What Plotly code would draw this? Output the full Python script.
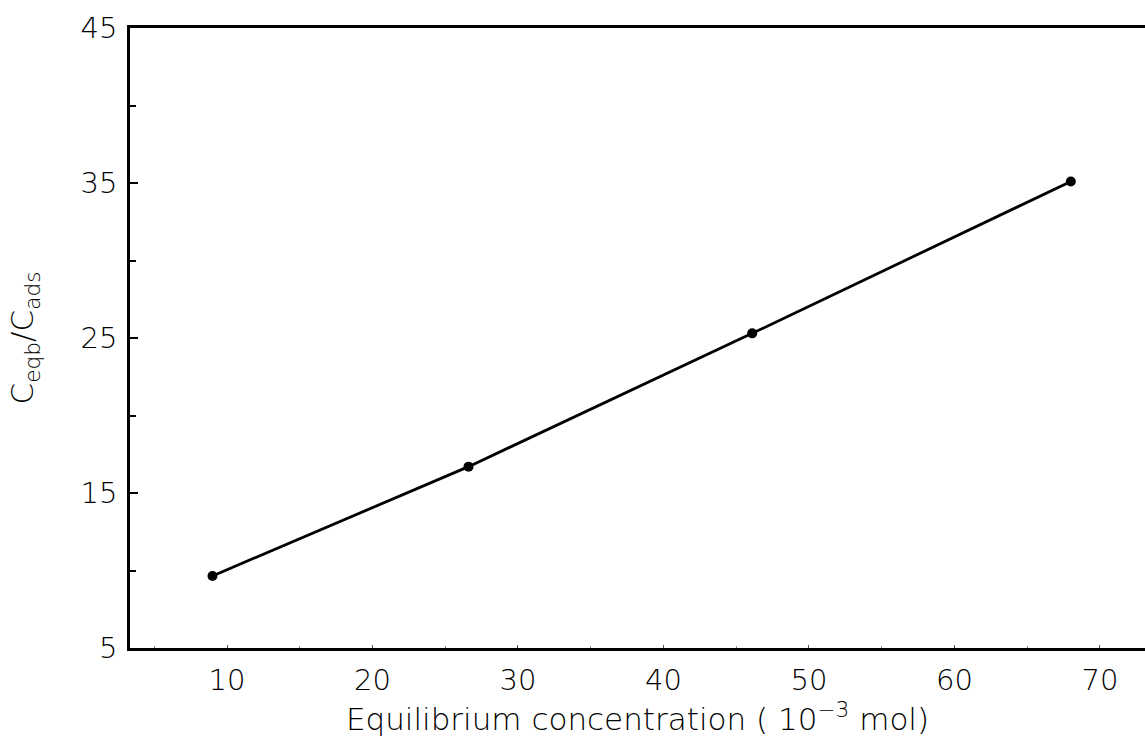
import plotly.graph_objects as go

# Equilibrium concentration (10^-3 mol) and the ratio C_eqb / C_ads
conc = [9.0, 26.6, 46.1, 68.0]
ratio = [9.65, 16.7, 25.3, 35.1]

x_ticks = [10, 20, 30, 40, 50, 60, 70]
y_ticks = [5, 15, 25, 35, 45]

FONT = "DejaVu Sans"
THIN = 200

fig = go.Figure()
fig.add_trace(go.Scatter(
    x=conc, y=ratio, mode="lines+markers",
    line=dict(color="black", width=2.8),
    marker=dict(color="black", size=10),
    showlegend=False,
))

fig.update_layout(
    width=1145, height=747,
    margin=dict(l=130, r=0, t=28, b=99),
    paper_bgcolor="white", plot_bgcolor="white",
    font=dict(family=FONT, color="black", size=29, weight=THIN),
)

fig.update_xaxes(
    range=[3.33, 73.1],
    tickvals=x_ticks, ticktext=[str(v) for v in x_ticks],
    ticks="inside", ticklen=3, tickwidth=1, tickcolor="#555",
    minor=dict(dtick=5, ticks="inside", ticklen=2, tickcolor="#888"),
    showline=True, linecolor="black", linewidth=2.5, mirror=True,
    showgrid=False, zeroline=False,
    tickfont=dict(size=29, weight=THIN, color="black"),
    ticklabelstandoff=4,
    title=dict(text="Equilibrium concentration ( 10<sup>−3</sup> mol)",
               font=dict(size=31, weight=THIN, color="black"), standoff=10),
)

fig.update_yaxes(
    range=[5, 45],
    tickvals=y_ticks, ticktext=[str(v) for v in y_ticks],
    ticks="inside", ticklen=8, tickwidth=1.5, tickcolor="black",
    minor=dict(tickvals=[10, 20, 30, 40], ticks="inside", ticklen=6, tickcolor="black"),
    showline=True, linecolor="black", linewidth=2.5, mirror=False,
    showgrid=False, zeroline=False,
    tickfont=dict(size=29, weight=THIN, color="black"),
    ticklabelstandoff=4,
    title=dict(text="C<sub>eqb</sub>/C<sub>ads</sub>",
               font=dict(size=31, weight=THIN, color="black"), standoff=38),
)

fig.write_html("out.html")
